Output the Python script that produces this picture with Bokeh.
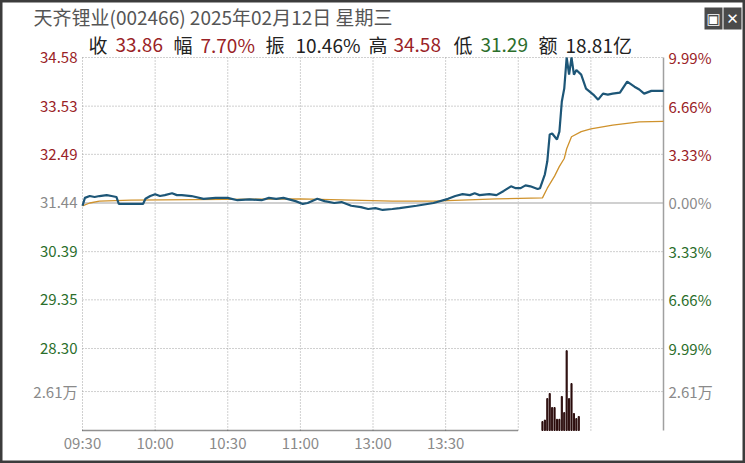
from bokeh.plotting import figure
from bokeh.models import Range1d, Label, BoxAnnotation
from bokeh.embed import file_html
from bokeh.resources import INLINE

FONT = "Noto Sans CJK SC"
RED = "#9a2226"
GREEN = "#2b6e2b"
GRAY = "#8a8a8a"
GRID = "#a0a0a0"

title_text = "天齐锂业(002466) 2025年02月12日 星期三"
stat_names = ["收", "幅", "振", "高", "低", "额"]
stat_values = ["33.86", "7.70%", "10.46%", "34.58", "31.29", "18.81亿"]
stat_colors = [RED, RED, "#222222", RED, GREEN, "#222222"]

prev_close = 31.44
price_ticks = [34.58, 33.53, 32.49, 31.44, 30.39, 29.35, 28.30]
pct_labels = ["9.99%", "6.66%", "3.33%", "0.00%", "3.33%", "6.66%", "9.99%"]
vol_tick = 2.61
vol_tick_label = "2.61万"

time_ticks = [0, 30, 60, 90, 120, 150, 180, 210, 240]
time_labels = ["09:30", "10:00", "10:30", "11:00", "13:00", "13:30", "", "", ""]

price_min = [0, 1, 3, 5, 7, 10, 12, 14, 15, 20, 25, 26, 28, 30, 32, 34, 37, 39, 41, 45,
             50, 55, 60, 64, 69, 74, 77, 80, 83, 88, 91, 93, 97, 100, 104, 107, 111, 115,
             118, 121, 124, 128, 131, 138, 145, 151, 154, 157, 160, 162, 164, 168, 171, 174,
             177, 179, 181, 183, 185, 188, 189, 191, 192, 193, 194, 196, 197, 198, 199, 200,
             201, 202, 203, 204, 206, 208, 211, 213, 215, 217, 219, 222, 225, 228, 230, 232,
             235, 240]
price_val = [31.38, 31.55, 31.59, 31.57, 31.59, 31.61, 31.59, 31.57, 31.42, 31.42, 31.42,
             31.53, 31.59, 31.63, 31.59, 31.61, 31.65, 31.61, 31.61, 31.59,
             31.53, 31.55, 31.55, 31.50, 31.52, 31.50, 31.55, 31.53, 31.55, 31.48,
             31.42, 31.44, 31.53, 31.48, 31.44, 31.46, 31.38, 31.35,
             31.31, 31.33, 31.29, 31.31, 31.33, 31.38, 31.44, 31.53, 31.59, 31.63, 31.61,
             31.65, 31.61, 31.63, 31.61, 31.70,
             31.80, 31.76, 31.76, 31.82, 31.80, 31.74, 31.76, 32.06, 32.34, 32.92, 32.94,
             32.81, 32.98, 33.63, 33.91, 34.58,
             34.21, 34.58, 34.21, 34.31, 34.21, 33.91, 33.78, 33.67, 33.80, 33.78, 33.80,
             33.82, 34.06, 33.95, 33.89, 33.80,
             33.86, 33.86]

avg_min = [0, 3, 7, 20, 90, 128, 145, 171, 190, 192, 195, 197, 199, 200, 202, 206, 210, 219, 230, 240]
avg_val = [31.38, 31.44, 31.48, 31.50, 31.53, 31.48, 31.48, 31.53, 31.55, 31.76, 32.02,
           32.23, 32.40, 32.61, 32.87, 32.98, 33.04, 33.12, 33.19, 33.20]

vol_min = [190, 191, 192, 193, 194, 195, 196, 197, 198, 199, 200, 201, 202, 203, 204, 205]
vol_val = [0.6, 0.7, 2.14, 2.48, 1.54, 1.54, 0.75, 0.75, 2.28, 1.20, 5.35, 2.14, 3.15, 1.14, 0.8, 0.94]

# ---- layout: the frame covers the whole canvas; the chart area sits inside it ----
W, H = 745, 463
AREA_L, AREA_R, AREA_T, AREA_B = 82, 663, 57, 430        # chart area in canvas pixels
PRICE_BOTTOM = 26.53                                       # price value at the area bottom
VOL_TOP = 25.0                                             # volume value at the area top

xpp = (time_ticks[-1] - time_ticks[0]) / (AREA_R - AREA_L)
ypp = (price_ticks[0] - PRICE_BOTTOM) / (AREA_B - AREA_T)
vpp = VOL_TOP / (AREA_B - AREA_T)

p = figure(width=W, height=H,
           x_range=Range1d(time_ticks[0] - AREA_L * xpp, time_ticks[-1] + (W - AREA_R) * xpp),
           y_range=Range1d(PRICE_BOTTOM - (H - AREA_B) * ypp, price_ticks[0] + AREA_T * ypp),
           output_backend="svg", toolbar_location=None,
           min_border=0, min_border_left=0, min_border_right=0,
           min_border_top=0, min_border_bottom=0)
p.extra_y_ranges = {"vol": Range1d(-(H - AREA_B) * vpp, VOL_TOP + AREA_T * vpp)}
p.xaxis.visible = False
p.yaxis.visible = False
p.xgrid.visible = False
p.ygrid.visible = False
p.outline_line_color = "#3c3c3c"
p.outline_line_width = 4
p.background_fill_color = "white"
p.border_fill_color = "white"

t0, t1 = time_ticks[0], time_ticks[-1]
# horizontal dotted grid lines
hg = [t for t in price_ticks if t != prev_close]
p.segment(x0=[t0] * len(hg), x1=[t1] * len(hg), y0=hg, y1=hg,
          line_color=GRID, line_dash="1 2", line_width=1)
p.segment(x0=[t0], x1=[t1], y0=[vol_tick], y1=[vol_tick], y_range_name="vol",
          line_color=GRID, line_dash="1 2", line_width=1)
# vertical dotted grid lines
vg = time_ticks[:-1]
p.segment(x0=vg, x1=vg, y0=[PRICE_BOTTOM] * len(vg), y1=[price_ticks[0]] * len(vg),
          line_color=GRID, line_dash="1 2", line_width=1)
# previous close line, right border, bottom line
p.segment(x0=[t0], x1=[t1], y0=[prev_close], y1=[prev_close], line_color="#d0d0d0", line_width=2)
p.segment(x0=[t1], x1=[t1], y0=[PRICE_BOTTOM], y1=[price_ticks[0]], line_color="#a0a0a0",
          line_width=1.5)
p.segment(x0=[t0], x1=[time_ticks[-3]], y0=[0], y1=[0], y_range_name="vol",
          line_color="#222222", line_dash="1 1", line_width=1.5)

p.vbar(x=vol_min, top=vol_val, bottom=0, width=0.45, y_range_name="vol", color="#2a0b0b")
p.line(avg_min, avg_val, line_color="#cf922c", line_width=1.3)
p.line(price_min, price_val, line_color="#1d5677", line_width=2.2)

# axis labels (coloured per tick)
for t, pl in zip(price_ticks, pct_labels):
    c = RED if t > prev_close else (GREEN if t < prev_close else GRAY)
    p.add_layout(Label(x=AREA_L - 5, x_units="screen", y=t, text=f"{t:.2f}", text_align="right",
                       text_baseline="middle", text_font=FONT, text_font_size="15px",
                       text_color=c))
    p.add_layout(Label(x=AREA_R + 5, x_units="screen", y=t, text=pl, text_align="left",
                       text_baseline="middle", text_font=FONT, text_font_size="15px",
                       text_color=c))
for xs, al in [(AREA_L - 5, "right"), (AREA_R + 5, "left")]:
    p.add_layout(Label(x=xs, x_units="screen", y=vol_tick, y_range_name="vol",
                       text=vol_tick_label, text_align=al, text_baseline="middle",
                       text_font=FONT, text_font_size="15px", text_color=GRAY))
for t, tl in zip(time_ticks, time_labels):
    if tl:
        p.add_layout(Label(x=t, y=H - 442, y_units="screen", text=tl, text_align="center",
                           text_baseline="middle", text_font=FONT, text_font_size="15px",
                           text_color=GRAY))

# header
p.add_layout(Label(x=33, y=H - 16, x_units="screen", y_units="screen", text=title_text,
                   text_font=FONT, text_font_size="19px", text_color="#555555",
                   text_baseline="middle"))
name_x = [88, 173, 265, 368, 453, 538]
val_x = [115, 200, 295, 393, 480, 565]
for n, v, c, nx, vx in zip(stat_names, stat_values, stat_colors, name_x, val_x):
    p.add_layout(Label(x=nx, y=H - 44, x_units="screen", y_units="screen", text=n,
                       text_font=FONT, text_font_size="19px", text_color="#222222",
                       text_baseline="middle"))
    p.add_layout(Label(x=vx, y=H - 44, x_units="screen", y_units="screen", text=v,
                       text_font=FONT, text_font_size="19px", text_color=c,
                       text_baseline="middle"))

# window buttons
for bl, br, sym in [(704, 722, "▣"), (723, 741, "✕")]:
    p.add_layout(BoxAnnotation(left=bl, right=br, top=H - 7, bottom=H - 29,
                               left_units="screen", right_units="screen",
                               top_units="screen", bottom_units="screen",
                               fill_color="#4a4a4a", fill_alpha=1.0, line_color=None))
    p.add_layout(Label(x=(bl + br) / 2, y=H - 18, x_units="screen", y_units="screen", text=sym,
                       text_align="center", text_baseline="middle", text_font="DejaVu Sans",
                       text_font_size="15px", text_color="white"))

open("out.html", "w").write(file_html(p, INLINE))
